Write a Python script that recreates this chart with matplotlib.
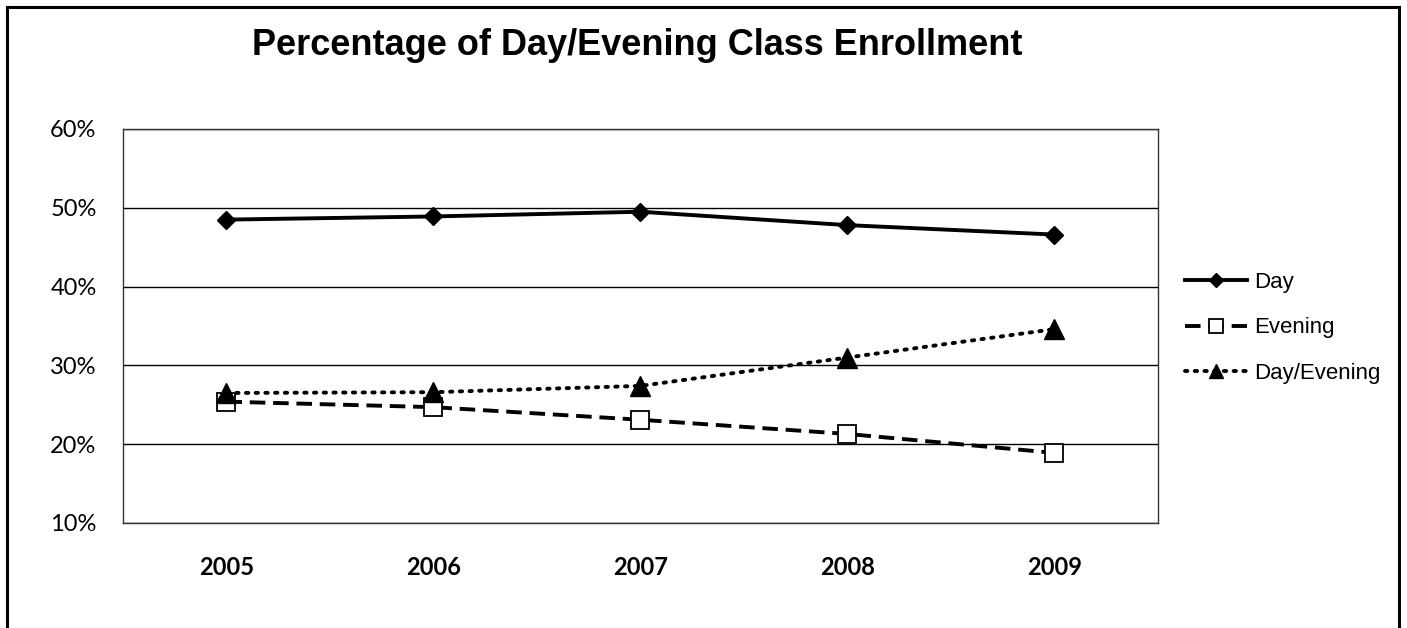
import matplotlib.pyplot as plt
from matplotlib.patches import Rectangle
from matplotlib.ticker import FuncFormatter

years = ['2005', '2006', '2007', '2008', '2009']
day = [48.5, 48.9, 49.5, 47.8, 46.6]
evening = [25.4, 24.7, 23.1, 21.3, 18.9]
day_evening = [26.5, 26.6, 27.4, 31.0, 34.6]


def create_chart():
    fig = plt.figure(figsize=(14.07, 6.28), dpi=100)

    # outer chart frame (bottom edge falls off the page like in the scan)
    fig.patches.append(Rectangle((0.005, -0.02), 0.989, 1.009, transform=fig.transFigure,
                                 fill=False, edgecolor='black', linewidth=2.2))

    ax = fig.add_axes([0.0874, 0.1672, 0.7356, 0.6274])
    x = range(len(years))

    ax.plot(x, day, color='black', linewidth=2.8, marker='D', markersize=9,
            markerfacecolor='black', label='Day')
    ax.plot(x, evening, color='black', linewidth=2.8, linestyle=(0, (4, 2)),
            marker='s', markersize=13, markerfacecolor='white', markeredgewidth=1.3,
            label='Evening')
    ax.plot(x, day_evening, color='black', linewidth=2.8, linestyle=(0, (0.6, 1.9)),
            dash_capstyle='round', marker='^', markersize=14, markerfacecolor='black',
            label='Day/Evening')

    ax.set_xlim(-0.5, 4.5)
    ax.set_ylim(10, 60)
    ax.set_yticks([10, 20, 30, 40, 50, 60])
    ax.yaxis.set_major_formatter(FuncFormatter(lambda v, p: '{:.0f}%'.format(v)))
    ax.set_xticks(list(x))
    ax.set_xticklabels(years, fontweight='bold')
    ax.grid(axis='y', color='black', linewidth=1.0)
    ax.set_axisbelow(True)
    for s in ax.spines.values():
        s.set_linewidth(1.0)
        s.set_color('#333333')
    ax.tick_params(axis='both', length=0, labelsize=17)
    ax.tick_params(axis='y', pad=19)
    ax.tick_params(axis='x', pad=24)
    for lab in ax.get_xticklabels() + ax.get_yticklabels():
        lab.set_fontfamily('Lato')

    fig.text(0.453, 0.927, 'Percentage of Day/Evening Class Enrollment', ha='center',
             va='center', fontsize=26, fontweight='bold', family='Liberation Sans')

    ax.legend(loc='center left', bbox_to_anchor=(1.007, 0.495), frameon=False,
              prop={'family': 'Liberation Sans', 'size': 16}, handlelength=2.8,
              handletextpad=0.3, labelspacing=1.1, markerscale=0.75)

    fig.savefig('out.png', dpi=100)


if __name__ == '__main__':
    create_chart()
